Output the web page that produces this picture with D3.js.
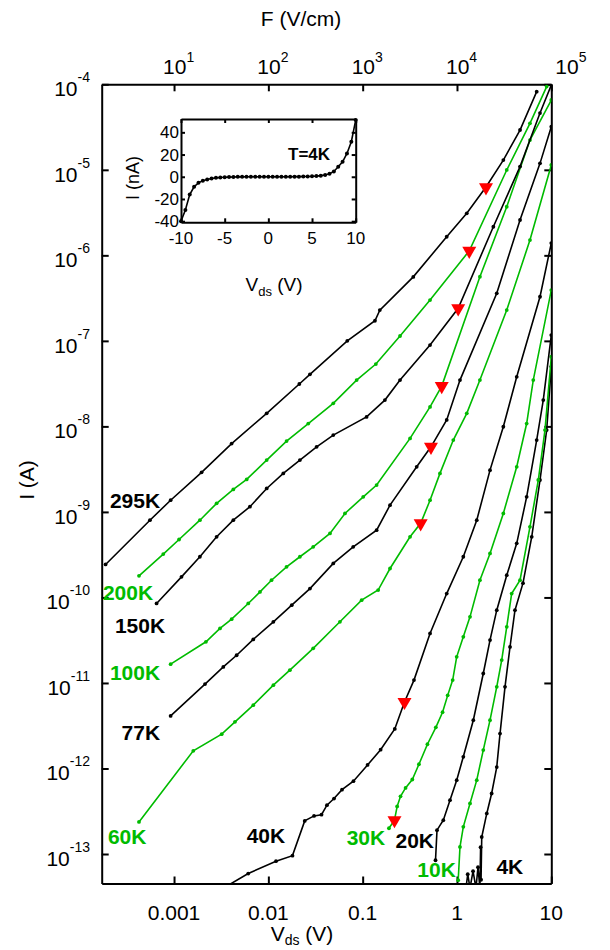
<!DOCTYPE html>
<meta charset="utf-8">
<style>
html, body {
  margin: 0;
  background: #fff;
}

.chart text {
  font-family: Arial, "Liberation Sans", Helvetica, sans-serif;
  fill: #000;
}

.chart .curve {
  fill: none;
  stroke-width: 1.6;
}

.chart .frame path,
.chart .frame line {
  stroke: #000;
  stroke-width: 2;
}
</style>
<body>
<svg class="chart" width="610" height="950"></svg>

<script src="https://d3js.org/d3.v7.min.js"></script>
<script type="text/javascript">
"use strict";

// temperature labels, hot to cold
var temps = ["295K", "200K", "150K", "100K", "77K", "60K", "40K", "30K", "20K", "10K", "4K"];

var v295 = [1.88e-4, 5.55e-4, 9.2e-4, 1.96e-3, 4.08e-3, 9.6e-3, 0.0213, 0.0276, 0.0687, 0.135, 0.152, 0.344, 0.778, 1.27, 2.03, 3.10, 4.66, 7.0];
var i295 = [2.43e-10, 8.0e-10, 1.37e-9, 2.9e-9, 6.3e-9, 1.42e-8, 3.13e-8, 4.06e-8, 1.0e-7, 1.72e-7, 2.29e-7, 5.6e-7, 1.65e-6, 3.1e-6, 6.3e-6, 1.30e-5, 2.92e-5, 8.2e-5];

var v200 = [4.25e-4, 7.69e-4, 1.13e-3, 1.88e-3, 2.83e-3, 4.25e-3, 5.89e-3, 9.6e-3, 0.0156, 0.0265, 0.0488, 0.0863, 0.138, 0.249, 0.518, 1.35, 3.37, 5.94, 8.93];
var i200 = [1.79e-10, 3.21e-10, 4.76e-10, 8.0e-10, 1.26e-9, 1.83e-9, 2.40e-9, 4.04e-9, 6.73e-9, 1.08e-8, 1.86e-8, 3.48e-8, 5.36e-8, 1.14e-7, 3.0e-7, 1.13e-6, 9.96e-6, 3.5e-5, 9.4e-5];

var v150 = [6.53e-4, 1.20e-3, 1.88e-3, 2.83e-3, 4.25e-3, 6.38e-3, 9.6e-3, 0.0144, 0.0216, 0.0325, 0.0488, 0.110, 0.172, 0.249, 0.518, 1.03, 2.43, 4.66, 7.59, 10];
var i150 = [8.5e-11, 1.74e-10, 2.99e-10, 5.12e-10, 8.0e-10, 1.15e-9, 1.88e-9, 2.82e-9, 4.04e-9, 5.77e-9, 7.91e-9, 1.29e-8, 2.03e-8, 3.48e-8, 8.93e-8, 2.4e-7, 2.16e-6, 1.09e-5, 4.61e-5, 9.8e-5];

var v100 = [9.2e-4, 2.18e-3, 3.07e-3, 4.08e-3, 6.12e-3, 8.15e-3, 0.0108, 0.0156, 0.0216, 0.0299, 0.045, 0.0649, 0.1014, 0.1406, 0.318, 0.518, 0.689, 1.75, 3.37, 5.94, 10];
var i100 = [1.66e-11, 3.03e-11, 4.34e-11, 5.57e-11, 8.5e-11, 1.16e-10, 1.59e-10, 2.28e-10, 2.99e-10, 3.91e-10, 5.61e-10, 9.6e-10, 1.50e-9, 2.06e-9, 7.24e-9, 1.69e-8, 2.96e-8, 5.62e-7, 3.70e-6, 2.23e-5, 6.55e-5];

var v77 = [9.2e-4, 2.13e-3, 3.33e-3, 4.61e-3, 6.92e-3, 0.0113, 0.0177, 0.0276, 0.0488, 0.0794, 0.1406, 0.195, 0.374, 0.530, 0.778, 1.076, 2.64, 4.66, 7.59, 10];
var i77 = [4.12e-12, 9.7e-12, 1.54e-11, 2.11e-11, 3.23e-11, 5.19e-11, 8.13e-11, 1.27e-10, 2.50e-10, 3.91e-10, 6.12e-10, 1.20e-9, 3.37e-9, 5.77e-9, 1.19e-8, 3.48e-8, 3.6e-7, 2.59e-6, 1.19e-5, 3.19e-5];

var v60 = [4.25e-4, 1.60e-3, 3.20e-3, 4.43e-3, 6.92e-3, 0.0113, 0.0169, 0.0299, 0.0574, 0.0975, 0.146, 0.195, 0.318, 0.412, 0.518, 0.66, 0.914, 1.27, 1.75, 3.37, 5.94, 10];
var i60 = [2.37e-13, 1.61e-12, 2.52e-12, 3.51e-12, 5.50e-12, 9.42e-12, 1.41e-11, 2.54e-11, 5.19e-11, 9.29e-11, 1.22e-10, 2.18e-10, 5.12e-10, 7.35e-10, 1.37e-9, 2.82e-9, 6.92e-9, 1.42e-8, 3.48e-8, 2.29e-7, 1.51e-6, 1.14e-5];

var v40 = [2.72e-3, 6.12e-3, 0.01205, 0.01802, 0.0243, 0.0305, 0.0366, 0.0418, 0.0497, 0.0604, 0.0798, 0.1127, 0.155, 0.219, 0.2776, 0.350, 0.518, 0.778, 1.167, 1.62, 2.24, 3.10, 4.30, 7.59, 10];
var i40 = [3.5e-14, 5.91e-14, 8.24e-14, 9.57e-14, 2.44e-13, 2.79e-13, 2.88e-13, 3.72e-13, 4.45e-13, 5.65e-13, 7.10e-13, 1.10e-12, 1.66e-12, 2.90e-12, 6.0e-12, 1.08e-11, 3.79e-11, 1.11e-10, 2.99e-10, 8.0e-10, 3.08e-9, 9.9e-9, 3.80e-8, 3.28e-7, 1.39e-6];

var v30 = [0.190, 0.2174, 0.232, 0.252, 0.285, 0.336, 0.395, 0.486, 0.597, 0.703, 0.797, 0.90, 0.993, 1.167, 1.374, 1.75, 2.24, 3.10, 4.30, 5.48, 6.44, 10];
var i30 = [2.0e-13, 2.48e-13, 3.6e-13, 4.72e-13, 5.93e-13, 7.43e-13, 1.12e-12, 1.92e-12, 3.03e-12, 4.55e-12, 7.16e-12, 1.08e-11, 2.02e-11, 3.46e-11, 5.93e-11, 1.59e-10, 3.27e-10, 9.6e-10, 3.37e-9, 1.08e-8, 3.48e-8, 3.93e-7];

var v20 = [0.592, 0.614, 0.716, 0.843, 0.993, 1.167, 1.49, 1.90, 2.24, 2.64, 3.37, 4.30, 5.48, 7.0, 8.22, 10];
var i20 = [8.45e-14, 1.90e-13, 2.48e-13, 4.26e-13, 7.3e-13, 1.37e-12, 3.67e-12, 1.29e-11, 3.17e-11, 7.1e-11, 1.82e-10, 4.29e-10, 1.50e-9, 6.92e-9, 2.03e-8, 1.17e-7];

var v10 = [1.03, 1.076, 1.167, 1.374, 1.62, 1.90, 2.24, 2.64, 2.98, 3.37, 3.80, 4.66, 5.94, 7.28, 8.57, 10];
var i10 = [4.94e-14, 1.21e-13, 2.08e-13, 3.9e-13, 7.3e-13, 1.64e-12, 3.67e-12, 9.0e-12, 1.85e-11, 4.53e-11, 1.11e-10, 1.59e-10, 6.7e-10, 2.36e-9, 9.06e-9, 6.52e-8];

var v4 = [1.245, 1.30, 1.374, 1.48, 1.59, 1.67, 1.75, 1.78, 1.80, 1.83, 2.07, 2.33, 2.64, 2.86, 3.23, 3.65, 4.12, 5.01, 6.2, 7.59, 8.93, 10];
var i4 = [4e-14, 5.8e-14, 4e-14, 6.3e-14, 4e-14, 7e-14, 4e-14, 1.2e-13, 5e-14, 1.58e-13, 2.98e-13, 5.1e-13, 1.04e-12, 2.56e-12, 9.0e-12, 2.64e-11, 7.1e-11, 1.47e-10, 5.12e-10, 2.36e-9, 9.06e-9, 5.0e-8];

// red triangles (one per curve, 295K down to 30K)
var triV = [2.03, 1.35, 1.03, 0.689, 0.530, 0.412, 0.2776, 0.2174];
var triI = [6.24e-6, 1.13e-6, 2.4e-7, 2.96e-8, 5.77e-9, 7.35e-10, 6.0e-12, 2.48e-13];

// where each temperature label sits (left end of text, baseline)
var labelV = [2.09e-4, 1.76e-4, 2.36e-4, 2.09e-4, 2.78e-4, 1.99e-4, 5.89e-3, 0.0676, 0.223, 0.380, 2.62];
var labelI = [1.11e-9, 9.3e-11, 3.82e-11, 1.08e-11, 2.14e-12, 1.30e-13, 1.34e-13, 1.27e-13, 1.17e-13, 5.36e-14, 5.81e-14];

// axis ticks
var xTicks = [0.001, 0.01, 0.1, 1, 10];
var xTickLabels = ["0.001", "0.01", "0.1", "1", "10"];
var yExponents = [-4, -5, -6, -7, -8, -9, -10, -11, -12, -13];
var fExponents = [1, 2, 3, 4, 5];

// inset: I-V at 4K
var insetV = [-10, -9.5, -9, -8.5, -8, -7.5, -7, -6.5, -6, -5.5, -5, -4.5, -4, -3.5, -3, -2.5, -2, -1.5, -1, -0.5,
  0, 0.5, 1, 1.5, 2, 2.5, 3, 3.5, 4, 4.5, 5, 5.5, 6, 6.5, 7, 7.5, 8, 8.5, 9, 9.5, 10];
var insetI = [-40, -30, -16, -9, -5.5, -3.5, -2.4, -1.6, -1.0, -0.6, -0.4, -0.3, -0.2, -0.1, -0.1, 0, 0, 0, 0, 0,
  0, 0, 0, 0, 0, 0, 0.1, 0.1, 0.2, 0.3, 0.4, 0.6, 1.0, 1.6, 2.6, 4.8, 9, 13.5, 21, 31.5, 51];
var insetXTicks = [-10, -5, 0, 5, 10];
var insetYTicks = [-40, -20, 0, 20, 40];

var curveV = [v295, v200, v150, v100, v77, v60, v40, v30, v20, v10, v4];
var curveI = [i295, i200, i150, i100, i77, i60, i40, i30, i20, i10, i4];

var series = temps.map(function(t, k) {
  return {
    name: t,
    points: curveV[k].map(function(v, j) { return [v, curveI[k][j]]; }),
    color: k % 2 ? "#00bb00" : "#000"
  };
});

var plot = { left: 101.7, right: 551.3, top: 84.3, bottom: 883.5 };

var svg = d3.select(".chart");

var x = d3.scaleLog().domain([1.71e-4, 10]).range([plot.left, plot.right]);
var xF = d3.scaleLog().domain([1.71, 1e5]).range([plot.left, plot.right]);
var y = d3.scaleLog().domain([4.52e-14, 1e-4]).range([plot.bottom, plot.top]);

svg.append("defs").append("clipPath")
  .attr("id", "plot-clip")
  .append("rect")
  .attr("x", plot.left)
  .attr("y", plot.top)
  .attr("width", plot.right - plot.left)
  .attr("height", plot.bottom - plot.top);

// frame with inward ticks on all four sides
function frameAxis(axis, transform) {
  var g = svg.append("g")
    .attr("class", "frame")
    .attr("transform", transform)
    .call(axis);
  g.selectAll("text").remove();
  return g;
}

frameAxis(d3.axisBottom(x).tickValues(xTicks).tickSize(-7).tickSizeOuter(0).tickFormat(""),
  "translate(0," + plot.bottom + ")");
frameAxis(d3.axisTop(xF).tickValues(fExponents.map(function(e) { return Math.pow(10, e); }))
  .tickSize(-7).tickSizeOuter(0).tickFormat(""), "translate(0," + plot.top + ")");
frameAxis(d3.axisLeft(y).tickValues(yExponents.map(function(e) { return Math.pow(10, e); }))
  .tickSize(-7).tickSizeOuter(0).tickFormat(""), "translate(" + plot.left + ",0)");
frameAxis(d3.axisRight(y).tickValues(yExponents.map(function(e) { return Math.pow(10, e); }))
  .tickSize(-7).tickSizeOuter(0).tickFormat(""), "translate(" + plot.right + ",0)");

// tick labels
svg.append("g").selectAll("text")
  .data(xTicks)
  .join("text")
  .attr("x", function(d) { return x(d); })
  .attr("y", 920)
  .attr("text-anchor", "middle")
  .attr("font-size", 21)
  .text(function(d, k) { return xTickLabels[k]; });

var yLab = svg.append("g").selectAll("text")
  .data(yExponents)
  .join("text")
  .attr("x", 90)
  .attr("y", function(d) { return y(Math.pow(10, d)) + 12; })
  .attr("text-anchor", "end")
  .attr("font-size", 21);
yLab.append("tspan").text("10");
yLab.append("tspan").attr("font-size", 14).attr("dy", -14).text(function(d) { return d; });

var fLab = svg.append("g").selectAll("text")
  .data(fExponents)
  .join("text")
  .attr("x", function(d) { return d === 5 ? xF(1e5) + 4 : xF(Math.pow(10, d)) - 11; })
  .attr("y", 74)
  .attr("font-size", 21);
fLab.append("tspan").text("10");
fLab.append("tspan").attr("font-size", 14).attr("dy", -12).text(function(d) { return d; });

// axis titles
svg.append("text")
  .attr("x", 301)
  .attr("y", 26)
  .attr("text-anchor", "middle")
  .attr("font-size", 21)
  .text("F (V/cm)");

var xTitle = svg.append("text")
  .attr("x", 302)
  .attr("y", 941)
  .attr("text-anchor", "middle")
  .attr("font-size", 21);
xTitle.append("tspan").text("V");
xTitle.append("tspan").attr("font-size", 14).attr("dy", 4).text("ds");
xTitle.append("tspan").attr("dy", -4).text(" (V)");

svg.append("text")
  .attr("transform", "translate(34,480) rotate(-90)")
  .attr("text-anchor", "middle")
  .attr("font-size", 21)
  .text("I (A)");

// curves
var line = d3.line()
  .x(function(d) { return x(d[0]); })
  .y(function(d) { return y(d[1]); });

var curves = svg.append("g")
  .attr("clip-path", "url(#plot-clip)")
  .selectAll("g")
  .data(series.slice().reverse())
  .join("g");

curves.append("path")
  .attr("class", "curve")
  .attr("stroke", function(d) { return d.color; })
  .attr("d", function(d) { return line(d.points); });

curves.selectAll("circle")
  .data(function(d) { return d.points.map(function(p) { return { p: p, color: d.color }; }); })
  .join("circle")
  .attr("cx", function(d) { return x(d.p[0]); })
  .attr("cy", function(d) { return y(d.p[1]); })
  .attr("r", 1.9)
  .attr("fill", function(d) { return d.color; });

// red triangles
svg.append("g").selectAll("path")
  .data(triV)
  .join("path")
  .attr("d", d3.symbol().type(d3.symbolTriangle).size(85))
  .attr("fill", "#ff0000")
  .attr("transform", function(d, k) {
    return "translate(" + x(d) + "," + y(triI[k]) + ") rotate(180)";
  });

// temperature labels
svg.append("g").selectAll("text")
  .data(series)
  .join("text")
  .attr("x", function(d, k) { return x(labelV[k]); })
  .attr("y", function(d, k) { return y(labelI[k]); })
  .attr("font-size", 21)
  .attr("font-weight", "bold")
  .style("fill", function(d) { return d.color; })
  .text(function(d) { return d.name; });

// inset
var ix = d3.scaleLinear().domain([-10, 10]).range([181, 355.7]);
var iy = d3.scaleLinear().domain([-41, 52]).range([222.3, 119]);

var inset = svg.append("g");

inset.append("rect")
  .attr("x", ix(-10))
  .attr("y", iy(52))
  .attr("width", ix(10) - ix(-10))
  .attr("height", iy(-41) - iy(52))
  .attr("fill", "#fff");

function insetAxis(axis, transform) {
  var g = inset.append("g")
    .attr("class", "frame")
    .attr("transform", transform)
    .call(axis);
  g.selectAll("text").remove();
  return g;
}

insetAxis(d3.axisBottom(ix).tickValues(insetXTicks).tickSize(-4).tickSizeOuter(0).tickFormat(""),
  "translate(0," + iy(-41) + ")");
insetAxis(d3.axisTop(ix).tickValues(insetXTicks).tickSize(-4).tickSizeOuter(0).tickFormat(""),
  "translate(0," + iy(52) + ")");
insetAxis(d3.axisLeft(iy).tickValues(insetYTicks).tickSize(-4).tickSizeOuter(0).tickFormat(""),
  "translate(" + ix(-10) + ",0)");
insetAxis(d3.axisRight(iy).tickValues(insetYTicks).tickSize(-4).tickSizeOuter(0).tickFormat(""),
  "translate(" + ix(10) + ",0)");

var insetLine = d3.line()
  .x(function(d, k) { return ix(insetV[k]); })
  .y(function(d) { return iy(d); });

inset.append("path")
  .attr("class", "curve")
  .attr("stroke", "#000")
  .attr("stroke-width", 2.4)
  .attr("d", insetLine(insetI));

inset.append("g").selectAll("circle")
  .data(insetI)
  .join("circle")
  .attr("cx", function(d, k) { return ix(insetV[k]); })
  .attr("cy", function(d) { return iy(d); })
  .attr("r", 2)
  .attr("fill", "#000");

inset.append("g").selectAll("text")
  .data(insetXTicks)
  .join("text")
  .attr("x", function(d) { return ix(d); })
  .attr("y", 244)
  .attr("text-anchor", "middle")
  .attr("font-size", 17)
  .text(function(d) { return d; });

inset.append("g").selectAll("text")
  .data(insetYTicks)
  .join("text")
  .attr("x", 179)
  .attr("y", function(d) { return iy(d) + 6; })
  .attr("text-anchor", "end")
  .attr("font-size", 17)
  .text(function(d) { return d; });

inset.append("text")
  .attr("transform", "translate(139,178) rotate(-90)")
  .attr("text-anchor", "middle")
  .attr("font-size", 18)
  .text("I (nA)");

var ixTitle = inset.append("text")
  .attr("x", 274)
  .attr("y", 291)
  .attr("text-anchor", "middle")
  .attr("font-size", 19);
ixTitle.append("tspan").text("V");
ixTitle.append("tspan").attr("font-size", 13).attr("dy", 5).text("ds");
ixTitle.append("tspan").attr("dy", -5).text(" (V)");

inset.append("text")
  .attr("x", 288)
  .attr("y", 160)
  .attr("font-size", 17)
  .attr("font-weight", "bold")
  .text("T=4K");
</script>
</body>
